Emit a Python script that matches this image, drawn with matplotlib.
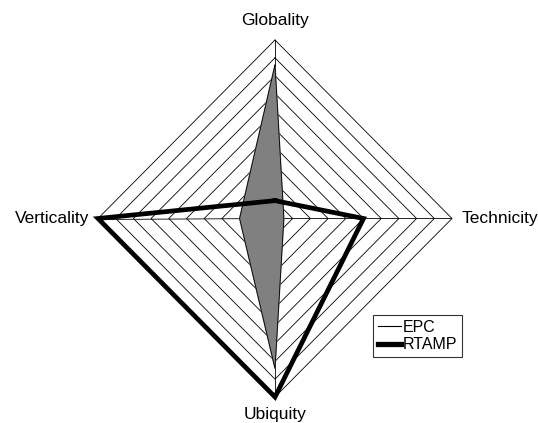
import matplotlib

matplotlib.use("Agg")
import matplotlib.pyplot as plt
import numpy as np
from matplotlib.lines import Line2D

plt.rcParams["font.family"] = ["Liberation Sans", "DejaVu Sans"]

# axes go clockwise from the top
AXES = ["Globality", "Technicity", "Ubiquity", "Verticality"]
EPC = [8.6, 0.5, 8.4, 2.0]
RTAMP = [1.0, 5.0, 10.0, 10.0]
LEVELS = np.arange(1, 11)

angles = np.pi / 2 - np.arange(len(AXES)) * 2 * np.pi / len(AXES)


def xy(vals):
    v = np.asarray(vals, dtype=float)
    x = np.append(v * np.cos(angles), v[0] * np.cos(angles[0]))
    y = np.append(v * np.sin(angles), v[0] * np.sin(angles[0]))
    return x, y


fig = plt.figure(figsize=(5.38, 4.23), dpi=100)
ax = fig.add_axes([98 / 538, 26 / 423, 354 / 538, 357 / 423])
ax.set_xlim(-10, 10)
ax.set_ylim(-10, 10)
ax.axis("off")

# diamond grid + spokes
for lv in LEVELS:
    gx, gy = xy([lv] * len(AXES))
    ax.plot(gx, gy, color="black", lw=0.6, zorder=1, clip_on=False)
for a in angles:
    ax.plot([0, 10 * np.cos(a)], [0, 10 * np.sin(a)], color="black", lw=0.6, zorder=1)

ex, ey = xy(EPC)
ax.fill(ex, ey, color="#808080", zorder=2)
ax.plot(ex, ey, color="black", lw=0.6, zorder=3)

rx, ry = xy(RTAMP)
ax.plot(rx, ry, color="black", lw=3.4, zorder=4, solid_joinstyle="miter", clip_on=False)

# axis labels
fs = 12.5
ax.annotate(AXES[0], (0, 10), xytext=(0, 14), textcoords="offset points",
            ha="center", va="center", fontsize=fs)
ax.annotate(AXES[1], (10, 0), xytext=(7, 0), textcoords="offset points",
            ha="left", va="center", fontsize=fs)
ax.annotate(AXES[2], (0, -10), xytext=(0, -12.5), textcoords="offset points",
            ha="center", va="center", fontsize=fs)
ax.annotate(AXES[3], (-10, 0), xytext=(-6, 0), textcoords="offset points",
            ha="right", va="center", fontsize=fs)

handles = [Line2D([], [], color="black", lw=0.8), Line2D([], [], color="black", lw=3.8)]
leg = fig.legend(handles, ["EPC", "RTAMP"], loc="upper left",
                 bbox_to_anchor=(373 / 538, 1 - 315 / 423), fontsize=11.5,
                 frameon=True, fancybox=False, handlelength=1.45, handletextpad=0.1,
                 borderpad=0.3, labelspacing=0.15, borderaxespad=0)
leg.get_frame().set_edgecolor("black")
leg.get_frame().set_linewidth(0.8)

fig.savefig("out.png", dpi=100)
